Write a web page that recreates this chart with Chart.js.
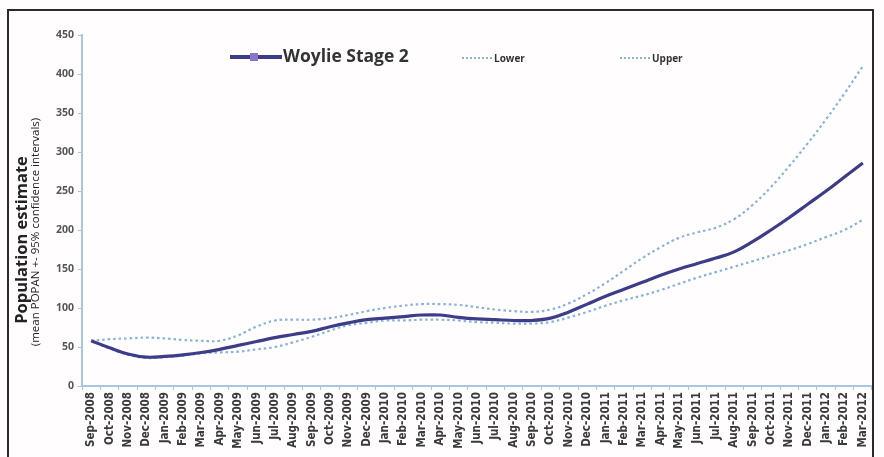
<!DOCTYPE html>
<html>
<head>
<meta charset="utf-8">
<script src="https://cdn.jsdelivr.net/npm/chart.js@4/dist/chart.umd.min.js"></script>
<style>
  html, body { margin:0; padding:0; background:#fff; }
  #wrap { position:relative; width:884px; height:457px; background:#fffdfd; overflow:hidden; font-family:"Open Sans", "DejaVu Sans", sans-serif; }
  #frame { position:absolute; left:7px; top:9px; width:867px; height:460px; border:2px solid #2a2a2a; box-sizing:border-box; pointer-events:none; }
  canvas { position:absolute; left:0; top:0; }
  .leg { position:absolute; font-weight:bold; color:#333; white-space:nowrap; }
  .ytitle { position:absolute; transform:translate(-50%,-50%) rotate(-90deg); white-space:nowrap; color:#222; }
</style>
</head>
<body>
<div id="wrap">
  <canvas id="c" width="884" height="457"></canvas>
  <div id="frame"></div>
  <!-- legend -->
  <div style="position:absolute;left:230px;top:55px;width:52px;height:4px;background:#3c3c88;"></div>
  <div style="position:absolute;left:250px;top:53px;width:8px;height:8px;background:#8c74cc;"></div>
  <div class="leg" style="left:283px;top:43px;font-size:17.5px;">Woylie Stage 2</div>
  <div style="position:absolute;left:462px;top:57px;width:30px;border-top:2px dotted #8ab3dc;"></div>
  <div class="leg" style="left:494px;top:51px;font-size:10px;">Lower</div>
  <div style="position:absolute;left:620px;top:57px;width:30px;border-top:2px dotted #8ab3dc;"></div>
  <div class="leg" style="left:652px;top:51px;font-size:10px;">Upper</div>
  <!-- y titles -->
  <div class="ytitle" style="left:20px;top:240px;font-size:16.5px;font-weight:bold;">Population estimate</div>
  <div class="ytitle" style="left:34px;top:232px;font-size:11.5px;">(mean POPAN +- 95% confidence intervals)</div>
</div>
<script>
const months = [
  "Sep-2008","Oct-2008","Nov-2008","Dec-2008",
  "Jan-2009","Feb-2009","Mar-2009","Apr-2009","May-2009","Jun-2009","Jul-2009","Aug-2009","Sep-2009","Oct-2009","Nov-2009","Dec-2009",
  "Jan-2010","Feb-2010","Mar-2010","Apr-2010","May-2010","Jun-2010","Jul-2010","Aug-2010","Sep-2010","Oct-2010","Nov-2010","Dec-2010",
  "Jan-2011","Feb-2011","Mar-2011","Apr-2011","May-2011","Jun-2011","Jul-2011","Aug-2011","Sep-2011","Oct-2011","Nov-2011","Dec-2011",
  "Jan-2012","Feb-2012","Mar-2012"
];
const meanValues = [
  58, 49, 41, 37,
  38, 40, 43, 47, 52, 57, 62, 66, 70, 76, 81, 85,
  87, 89, 91, 91, 88, 86, 85, 84, 84, 87, 95, 105,
  115, 124, 133, 142, 150, 157, 164, 172, 185, 200, 216, 233,
  250, 268, 286
];
const upperValues = [
  58, 60, 61, 62,
  61, 59, 58, 58, 65, 76, 84, 85, 85, 87, 91, 96,
  100, 103, 105, 105, 104, 101, 98, 96, 95, 98, 106, 118,
  132, 148, 164, 178, 190, 197, 203, 214, 232, 255, 282, 311,
  342, 375, 410
];
const lowerValues = [
  58, 48, 40, 36,
  37, 39, 42, 43, 44, 47, 50, 56, 63, 71, 78, 81,
  84, 84, 85, 85, 84, 82, 81, 80, 80, 82, 88, 95,
  103, 110, 116, 123, 131, 139, 146, 153, 160, 167, 174, 182,
  191, 200, 213
];
const yTicks = [0, 50, 100, 150, 200, 250, 300, 350, 400, 450];

const axisBlue = "#a9c6df";
new Chart(document.getElementById("c"), {
  type: "line",
  data: {
    labels: months,
    datasets: [
      { label: "Woylie Stage 2", data: meanValues, borderColor: "#3c3c88", borderWidth: 3.2, tension: 0.4, pointRadius: 0, order: 0 },
      { label: "Lower", data: lowerValues, borderColor: "#86b2dc", borderWidth: 2.2, borderDash: [2.5, 3], tension: 0.4, pointRadius: 0, order: 1 },
      { label: "Upper", data: upperValues, borderColor: "#86b2dc", borderWidth: 2.2, borderDash: [2.5, 3], tension: 0.4, pointRadius: 0, order: 1 }
    ]
  },
  options: {
    responsive: false,
    animation: false,
    layout: { padding: { top: 35, right: 12, left: 0, bottom: 0 } },
    plugins: { legend: { display: false }, tooltip: { enabled: false } },
    scales: {
      x: {
        offset: true,
        grid: { display: true, drawOnChartArea: false, offset: true, tickLength: 4, color: axisBlue },
        border: { color: axisBlue, width: 2 },
        ticks: { autoSkip: false, maxRotation: 90, minRotation: 90, color: "#3a3a3a", padding: 2,
                 font: { family: "'DejaVu Sans Condensed', 'Open Sans', sans-serif", size: 11.5, weight: "bold" } },
        afterFit: s => { s.height = 71; }
      },
      y: {
        min: 0, max: 450,
        afterBuildTicks: s => { s.ticks = yTicks.map(v => ({ value: v })); },
        grid: { display: true, drawOnChartArea: false, tickLength: 4, color: axisBlue },
        border: { color: axisBlue, width: 2 },
        ticks: { color: "#555", padding: 4, font: { family: "'Open Sans', sans-serif", size: 10.5, weight: "bold" } },
        afterFit: s => { s.width = 82; }
      }
    }
  }
});
</script>
</body>
</html>
